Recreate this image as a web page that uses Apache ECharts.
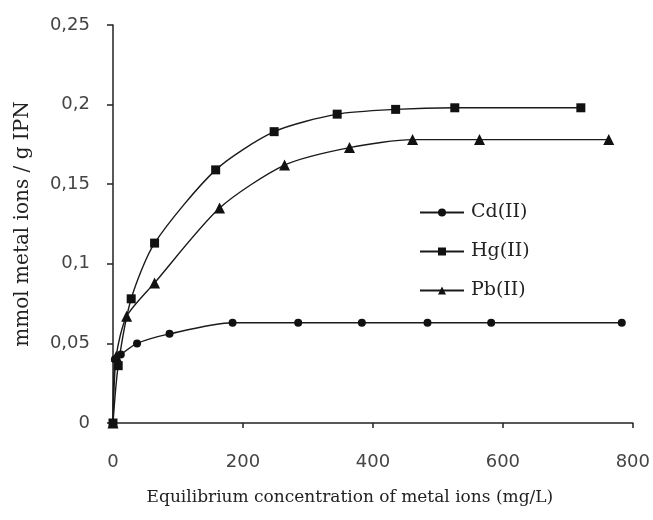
<!DOCTYPE html>
<html><head><meta charset="utf-8">
<script src="https://cdn.jsdelivr.net/npm/echarts@6/dist/echarts.min.js"></script>
<style>html,body{margin:0;padding:0;background:#fff}#c{width:653px;height:520px}</style>
</head><body><div id="c"></div>
<script>
var seriesNames = ['Cd(II)', 'Hg(II)', 'Pb(II)'];
var cdData = [[0,0],[3,0.040],[12,0.043],[37,0.050],[87,0.056],[184,0.063],[285,0.063],[383,0.063],[484,0.063],[582,0.063],[783,0.063]];
var hgData = [[0,0],[8,0.036],[28,0.078],[64,0.113],[158,0.159],[248,0.183],[345,0.194],[435,0.197],[526,0.198],[720,0.198]];
var pbData = [[0,0],[5,0.042],[21,0.067],[64,0.088],[164,0.135],[264,0.162],[364,0.173],[461,0.178],[564,0.178],[763,0.178]];
var xTicks = [0,200,400,600,800];
var yTicks = [0,0.05,0.1,0.15,0.2,0.25];

var chart = echarts.init(document.getElementById('c'));
var lineStyle = {color:'#1a1a1a', width:1.4};
function mk(name, data, symbol, size){
  return {name:name, type:'line', data:data, symbol:symbol, symbolSize:size, smooth:0.25,
    lineStyle:lineStyle, itemStyle:{color:'#111'}, z:3};
}
chart.setOption({
  animation:false,
  backgroundColor:'#fff',
  grid:{left:113, right:18, top:25, bottom:97, containLabel:false},
  legend:{orient:'vertical', left:414, top:198, itemGap:20, itemWidth:44, itemHeight:10,
    data:seriesNames,
    textStyle:{fontFamily:'DejaVu Serif', fontSize:19, color:'#222', padding:[0,0,0,2]}},
  xAxis:{type:'value', min:0, max:800, interval:200,
    name:'Equilibrium concentration of metal ions (mg/L)', nameLocation:'middle', nameGap:66,
    nameTextStyle:{fontFamily:'DejaVu Serif', fontSize:17, color:'#222', padding:[0,46,0,0]},
    axisLine:{lineStyle:{color:'#222', width:1.5}},
    axisTick:{show:true, length:5, lineStyle:{color:'#222', width:1.5}},
    axisLabel:{fontFamily:'DejaVu Sans', fontSize:18, color:'#444', margin:30,
      formatter:function(v){return xTicks.indexOf(v)>=0? String(v):'';}},
    splitLine:{show:false}},
  yAxis:{type:'value', min:0, max:0.25, interval:0.05,
    name:'mmol metal ions / g IPN', nameLocation:'middle', nameGap:80,
    nameTextStyle:{fontFamily:'DejaVu Serif', fontSize:20, color:'#222'},
    axisLine:{show:true, lineStyle:{color:'#222', width:1.5}},
    axisTick:{show:true, length:6, lineStyle:{color:'#222', width:1.5}},
    axisLabel:{fontFamily:'DejaVu Sans', fontSize:18, color:'#444', margin:23,
      formatter:function(v){
        for (var i=0;i<yTicks.length;i++){ if (Math.abs(yTicks[i]-v)<1e-9) return String(yTicks[i]).replace('.',','); }
        return '';
      }},
    splitLine:{show:false}},
  series:[mk(seriesNames[0], cdData, 'circle', 8), mk(seriesNames[1], hgData, 'rect', 9), mk(seriesNames[2], pbData, 'triangle', 11)]
});
</script></body></html>
